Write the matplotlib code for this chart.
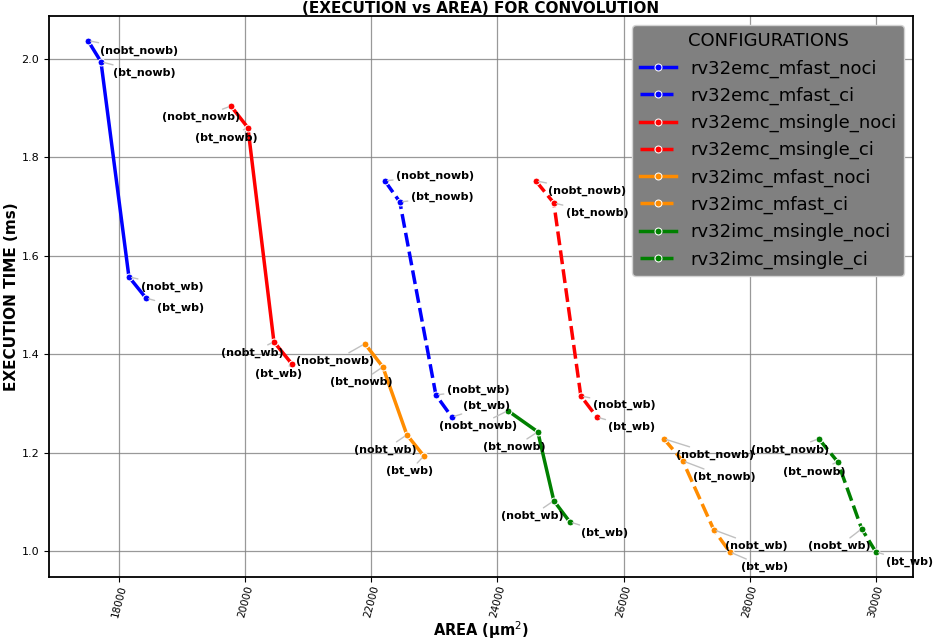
import matplotlib
matplotlib.use('Agg')
import matplotlib.pyplot as plt

# configurations and their measured points (area in um^2, exec time in ms)
configs = ['rv32emc_mfast_noci', 'rv32emc_mfast_ci', 'rv32emc_msingle_noci', 'rv32emc_msingle_ci',
           'rv32imc_mfast_noci', 'rv32imc_mfast_ci', 'rv32imc_msingle_noci', 'rv32imc_msingle_ci']
variants = ['(nobt_nowb)', '(bt_nowb)', '(nobt_wb)', '(bt_wb)']

area = [
    [17509, 17715, 18158, 18428],
    [22216, 22454, 23025, 23278],
    [19775, 20045, 20457, 20742],
    [24609, 24895, 25323, 25577],
    [21899, 22184, 22565, 22834],
    [26638, 26939, 27431, 27684],
    [24166, 24641, 24895, 25148],
    [29095, 29396, 29776, 30000],
]
exec_time = [
    [2.037, 1.994, 1.557, 1.514],
    [1.752, 1.709, 1.317, 1.272],
    [1.904, 1.860, 1.425, 1.380],
    [1.752, 1.707, 1.315, 1.272],
    [1.421, 1.374, 1.236, 1.193],
    [1.228, 1.183, 1.043, 0.998],
    [1.285, 1.242, 1.102, 1.059],
    [1.228, 1.181, 1.045, 0.998],
]

colors = ['blue', 'blue', 'red', 'red', 'darkorange', 'darkorange', 'green', 'green']

# label offsets (pixels, x right / y up) picked to mimic the original placement
label_offsets = [
    [(51, -10), (43, -11), (43, -10), (35, -10)],
    [(50, 5), (42, 5), (42, 5), (35, 11)],
    [(-30, -11), (-22, -10), (-22, -11), (-13, -10)],
    [(51, -10), (43, -10), (43, -9), (35, -10)],
    [(-30, -17), (-22, -15), (-22, -15), (-14, -15)],
    [(51, -16), (42, -16), (43, -16), (35, -15)],
    [(-30, -15), (-23, -15), (-22, -15), (35, -11)],
    [(-29, -11), (-23, -10), (-22, -17), (34, -10)],
]

fig = plt.figure(figsize=(9.41, 6.40), dpi=100)
ax = fig.add_axes([0.052, 0.0984, 0.918, 0.8766])

for i, name in enumerate(configs):
    ls = '-' if name.endswith('noci') else (0, (4, 1.5))
    ax.plot(area[i], exec_time[i], linestyle=ls, color=colors[i], linewidth=2.5,
            marker='o', markersize=5, markeredgecolor='white', markeredgewidth=0.75,
            label=name, zorder=3)
    for j, txt in enumerate(variants):
        ax.annotate(txt, (area[i][j], exec_time[i][j]), xytext=label_offsets[i][j],
                    textcoords='offset pixels', ha='center', va='center',
                    fontsize=8, fontweight='bold', zorder=4,
                    arrowprops=dict(arrowstyle='-', color='silver', lw=1,
                                    shrinkA=0, shrinkB=2))

ax.set_xlim(16890, 30586)
ax.set_ylim(0.947, 2.087)
ax.grid(True, color='gray', linewidth=0.9, alpha=0.8)
for s in ax.spines.values():
    s.set_linewidth(1.3)

ax.tick_params(axis='y', labelsize=8)
ax.tick_params(axis='x', labelsize=7.5, pad=2)
plt.setp(ax.get_xticklabels(), rotation=75)

ax.set_title('(EXECUTION vs AREA) FOR CONVOLUTION', fontsize=11, fontweight='bold', pad=2)
ax.set_xlabel('AREA (\u03bcm$^2$)', fontsize=10.5, fontweight='bold', labelpad=0)
ax.set_ylabel('EXECUTION TIME (ms)', fontsize=11, fontweight='bold', labelpad=2)

leg = ax.legend(loc='upper right', title='CONFIGURATIONS', fontsize=13, title_fontsize=13,
                facecolor='gray', framealpha=1, edgecolor='lightgray')

fig.savefig('out.png', dpi=100)
